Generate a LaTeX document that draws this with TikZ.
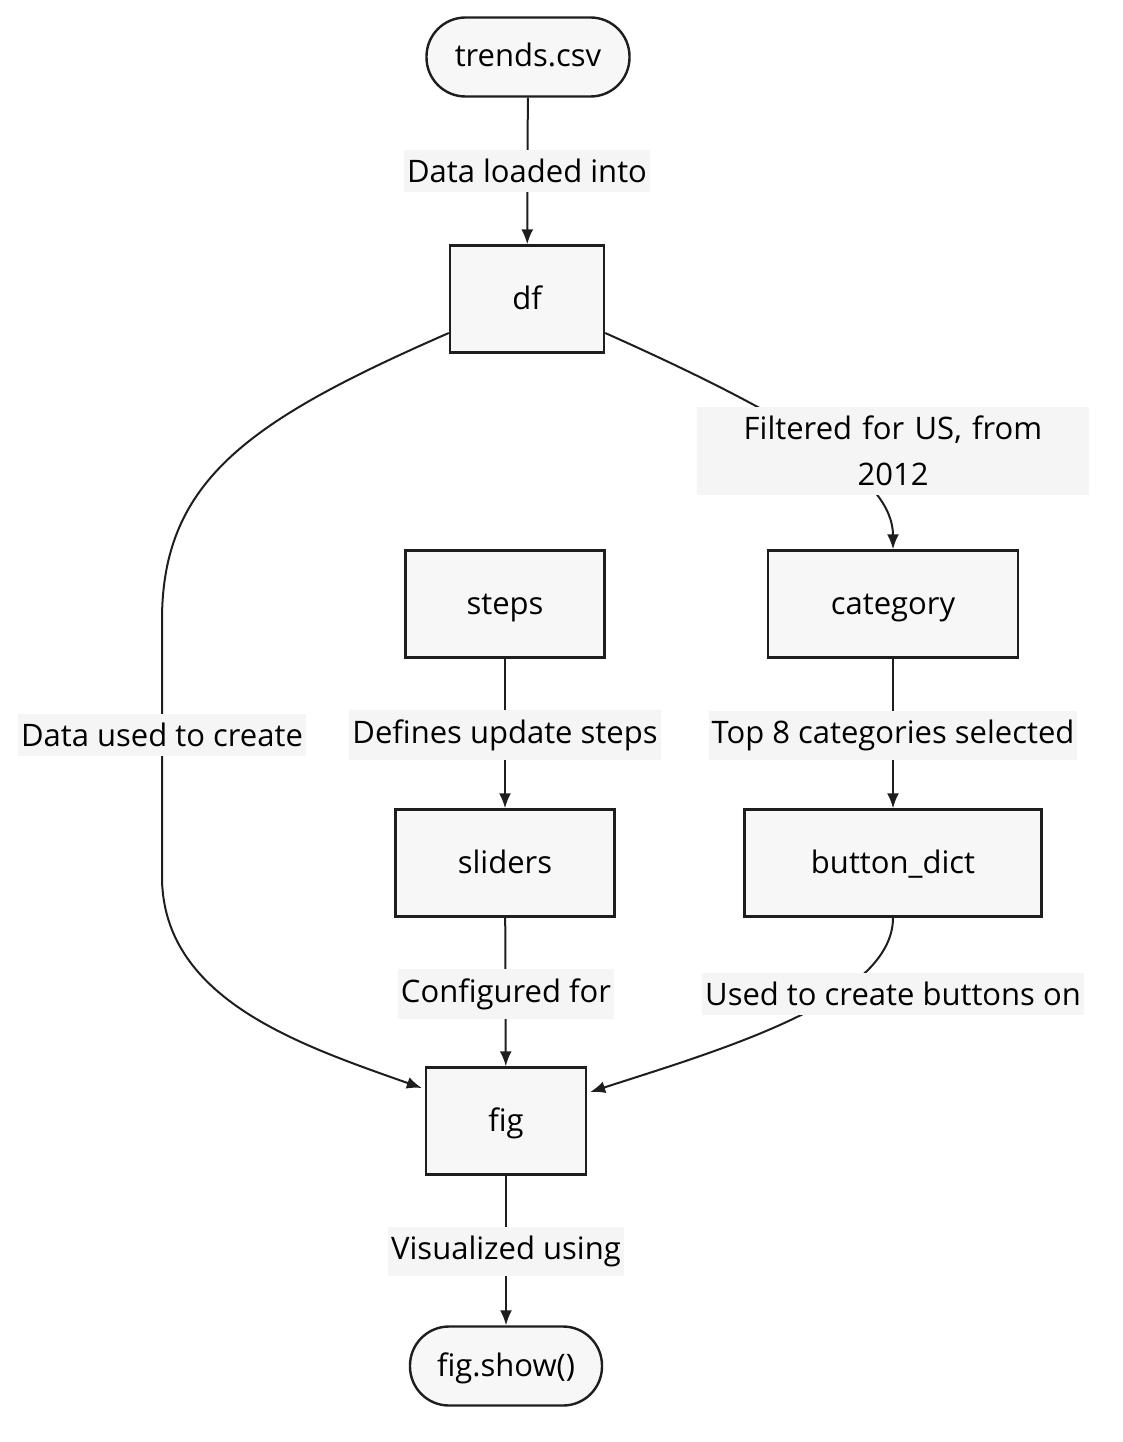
\documentclass[tikz,border=0pt]{standalone}
\usepackage{fontspec}
\setmainfont{Open Sans}
\usetikzlibrary{arrows.meta,shapes,calc,positioning}
\definecolor{inkgray}{HTML}{1E1E1E}
\definecolor{boxgray}{HTML}{F7F7F7}
\definecolor{lblgray}{HTML}{F5F5F5}
\tikzset{box/.style={
            draw=inkgray,
            fill=boxgray,
            line width=2.4pt,
            inner sep=0pt,
            minimum height=107pt,
            text height=23pt,
            text depth=3pt,
            font=\fontsize{31}{36}\selectfont
        },
        term/.style={
            box,
            rounded corners=39pt,
            minimum height=79pt
        },
        lbl/.style={
            fill=lblgray,
            inner xsep=3pt,
            inner ysep=9pt,
            align=center,
            font=\fontsize{31}{46}\selectfont
        },
        link/.style={
            draw=inkgray,
            line width=2pt,
            >={Latex[length=15pt,width=12pt]},
            ->
        }
    }
\begin{document}
\begin{tikzpicture}[x=1pt,y=-1pt]
        \useasboundingbox (0,0) rectangle (1122,1442);

        \node[term,minimum width=203pt] at (528,57) (trends) {trends.csv};
        \node[box,minimum width=154pt] at (527,299) (df) {df};
        \node[box,minimum width=199pt] at (505,604) (steps) {steps};
        \node[box,minimum width=250pt] at (893,604) (category) {category};
        \node[box,minimum width=219pt] at (505,863) (sliders) {sliders};
        \node[box,minimum width=297pt] at (893,863) (buttons) {button\_dict};
        \node[box,minimum width=160pt] at (506,1121) (fig) {fig};
        \node[term,minimum width=192pt] at (506,1366) (show) {fig.show()};

        \draw[link] (trends) -- (df);
        \draw[link] ($(df.east)+(0,34)$) .. controls (800,420) and (893,480) .. (category.north);
        \draw[link] ($(df.west)+(0,34)$) .. controls (250,420) and (162,480) .. (162,620)
            -- (162,880) .. controls (165,1000) and (300,1045) .. ($(fig.west)+(-3,-33)$);
        \draw[link] (steps) -- (sliders);
        \draw[link] (category) -- (buttons);
        \draw[link] (buttons.south) .. controls (893,1000) and (720,1050) .. ($(fig.east)+(3,-29)$);
        \draw[link] (sliders) -- (fig);
        \draw[link] (fig) -- (show);

        \node[lbl] at (527,171) (l-load) {Data loaded into};
        \node[lbl,text width=386pt] at (893,451) (l-filter) {Filtered for US, from\\2012};
        \node[lbl] at (162,735) (l-create) {Data used to create};
        \node[lbl] at (505,735) (l-steps) {Defines update steps};
        \node[lbl] at (893,735) (l-top) {Top 8 categories selected};
        \node[lbl] at (506,994) (l-config) {Configured for};
        \node[lbl] at (893,994) (l-buttons) {Used to create buttons on};
        \node[lbl] at (506,1251) (l-vis) {Visualized using};

    \end{tikzpicture}
\end{document}
